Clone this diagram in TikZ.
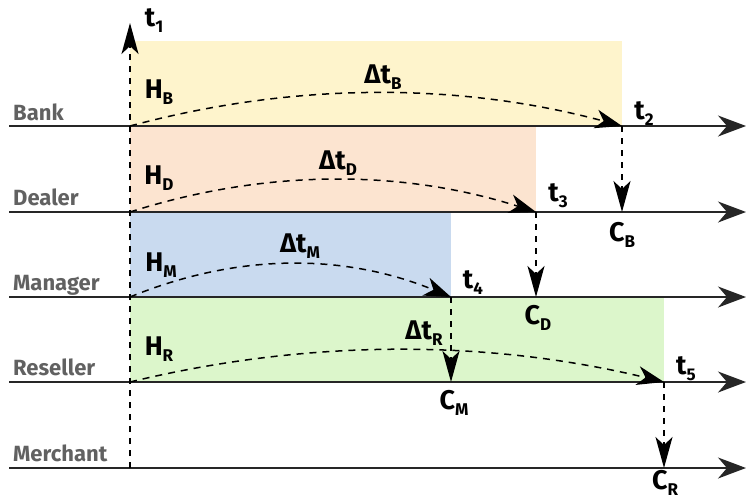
\documentclass[tikz,border=0pt]{standalone}
\usepackage{fontspec}
\setmainfont{Fira Sans}
\usetikzlibrary{arrows.meta}
\definecolor{cyel}{HTML}{FEF4CC}
\definecolor{cpea}{HTML}{FCE4D0}
\definecolor{cblu}{HTML}{C9DAEF}
\definecolor{cgrn}{HTML}{DCF6CB}
\newcommand\sbx[2]{#1\raisebox{-6pt}{\fontsize{17}{17}\selectfont #2}}
\begin{document}
\begin{tikzpicture}[x=1pt,y=-1pt,
  lane/.style={line width=1.4pt, draw=black!85, -{Stealth[length=28pt,width=21pt,inset=9pt]}},
  dur/.style={line width=1.5pt, dash pattern=on 7pt off 6pt, -{Stealth[length=27pt,width=19pt,inset=8pt]}},
  drop/.style={line width=1.5pt, dash pattern=on 6pt off 6pt, -{Stealth[length=31pt,width=17pt,inset=8pt]}},
  actor/.style={font=\fontsize{22}{22}\selectfont\bfseries, text=black!62, anchor=base west, inner sep=0pt},
  lbl/.style={font=\fontsize{27}{27}\selectfont\bfseries, inner sep=0pt},
]
\useasboundingbox (0,0) rectangle (746,501);
% phase rectangles
\fill[cyel] (130,41) rectangle (622,126);
\fill[cpea] (130,126) rectangle (536,212);
\fill[cblu] (130,212) rectangle (451,297);
\fill[cgrn] (130,297) rectangle (664,382);
% coordinates
\coordinate (bS) at (9,126);  \coordinate (bE) at (746,126);
\coordinate (dS) at (9,212);  \coordinate (dE) at (746,212);
\coordinate (mS) at (9,297);  \coordinate (mE) at (746,297);
\coordinate (rS) at (9,382);  \coordinate (rE) at (746,382);
\coordinate (xS) at (9,468);  \coordinate (xE) at (746,468);
\coordinate (o) at (130,468); \coordinate (top) at (130,23);
\coordinate (hB) at (130,126); \coordinate (hD) at (130,212);
\coordinate (hM) at (130,297); \coordinate (hR) at (130,382);
\coordinate (t2) at (622,126); \coordinate (cB) at (622,212);
\coordinate (t3) at (536,212); \coordinate (cD) at (536,297);
\coordinate (t4) at (451,297); \coordinate (cM) at (451,382);
\coordinate (t5) at (664,382); \coordinate (cR) at (664,468);
% lanes
\draw[lane] (bS) -- (bE);
\draw[lane] (dS) -- (dE);
\draw[lane] (mS) -- (mE);
\draw[lane] (rS) -- (rE);
\draw[lane] (xS) -- (xE);
% t1 axis
\draw[drop] (o) -- (top);
% durations
\draw[dur] (hB) .. controls (294,82) and (458,82) .. (t2);
\draw[dur] (hD) .. controls (265,169) and (401,169) .. (t3);
\draw[dur] (hM) .. controls (237,253) and (344,253) .. (t4);
\draw[dur] (hR) .. controls (308,339) and (486,339) .. (t5);
% drops
\draw[drop] (t2) -- (cB);
\draw[drop] (t3) -- (cD);
\draw[drop] (t4) -- (cM);
\draw[drop] (t5) -- (cR);
% actor names
\node[actor] (nB) at (13,120) {Bank};
\node[actor] (nD) at (13,205) {Dealer};
\node[actor] (nM) at (13,290) {Manager};
\node[actor] (nR) at (13,375) {Reseller};
\node[actor] (nX) at (13,461) {Merchant};
% labels
\node[lbl] (lt1) at (154,21) {\sbx{t}{1}};
\node[lbl] (lt2) at (644,114) {\sbx{t}{2}};
\node[lbl] (lt3) at (558,196) {\sbx{t}{3}};
\node[lbl] (lt4) at (473,283) {\sbx{t}{4}};
\node[lbl] (lt5) at (686,369) {\sbx{t}{5}};
\node[lbl] (lHB) at (159,92) {\sbx{H}{B}};
\node[lbl] (lHD) at (159,178) {\sbx{H}{D}};
\node[lbl] (lHM) at (161,265) {\sbx{H}{M}};
\node[lbl] (lHR) at (159,349) {\sbx{H}{R}};
\node[lbl] (lDB) at (383,77) {\sbx{Δt}{B}};
\node[lbl] (lDD) at (338,163) {\sbx{Δt}{D}};
\node[lbl] (lDM) at (300,246) {\sbx{Δt}{M}};
\node[lbl] (lDR) at (424,333) {\sbx{Δt}{R}};
\node[lbl] (lCB) at (622,235) {\sbx{C}{B}};
\node[lbl] (lCD) at (538,318) {\sbx{C}{D}};
\node[lbl] (lCM) at (454,403) {\sbx{C}{M}};
\node[lbl] (lCR) at (665,483) {\sbx{C}{R}};
\end{tikzpicture}
\end{document}
